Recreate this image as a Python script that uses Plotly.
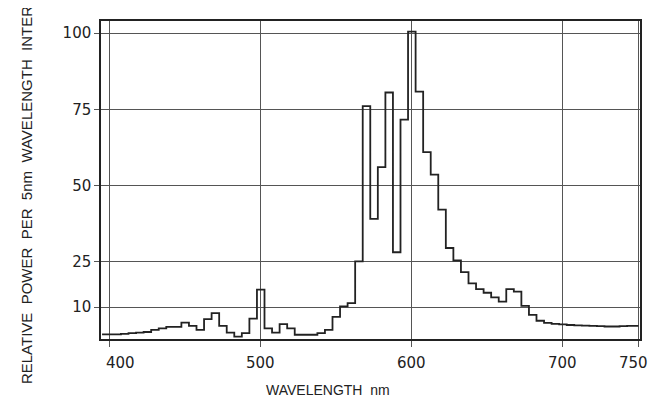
import plotly.graph_objects as go

# Wavelength bin centres (nm), 5 nm intervals
wavelength = list(range(395, 755, 5))
# Relative power per 5 nm interval
power = [
    1.0, 1.0, 1.0, 1.2, 1.4, 1.6, 1.8, 2.5, 3.0, 3.5,      # 395-440
    3.5, 4.9, 3.8, 2.5, 6.0, 8.0, 3.8, 1.6, 0.3, 1.4,      # 445-490
    6.2, 15.7, 3.0, 1.6, 4.4, 3.0, 0.9, 0.9, 0.9, 1.4,     # 495-540
    2.5, 6.8, 10.2, 11.3, 25.0, 76.0, 39.0, 56.0, 80.5, 28.0,  # 545-590
    71.6, 100.5, 80.8, 60.9, 53.5, 42.0, 29.4, 25.3, 21.5, 17.8,  # 595-640
    15.9, 14.7, 13.2, 11.8, 15.9, 15.1, 10.4, 7.4, 5.5, 4.8,   # 645-690
    4.5, 4.3, 4.1, 4.0, 3.9, 3.8, 3.7, 3.6, 3.6, 3.7,      # 695-740
    3.8, 3.8,                                               # 745-750
]

x_ticks = [400, 500, 600, 700, 750]
x_tick_text = ["400", "500", "600", "700", "750"]
x_label_pos = [407, 500, 600, 700, 747]
y_ticks = [10, 25, 50, 75, 100]
y_tick_text = ["10", "25", "50", "75", "100"]

ink = "#222222"
grid = "#555555"

fig = go.Figure()
fig.add_trace(go.Scatter(
    x=wavelength, y=power, mode="lines",
    line=dict(color=ink, width=1.8, shape="hvh"),
    showlegend=False, hoverinfo="skip",
))

for pos, txt in zip(x_label_pos, x_tick_text):
    fig.add_annotation(
        x=pos, y=-0.075, xref="x", yref="paper", text=txt, showarrow=False,
        xanchor="center", yanchor="middle",
        font=dict(family="DejaVu Sans", size=15, color=ink),
    )

fig.add_annotation(
    x=0.421, y=-0.16, xref="paper", yref="paper",
    text="WAVELENGTH\u00a0\u00a0nm", showarrow=False,
    xanchor="center", yanchor="middle",
    font=dict(family="Liberation Sans", size=14, color=ink),
)
fig.add_annotation(
    x=-0.137, y=0.494, xref="paper", yref="paper", textangle=-90,
    text="RELATIVE\u00a0\u00a0POWER\u00a0\u00a0PER\u00a0\u00a05nm\u00a0\u00a0WAVELENGTH\u00a0\u00a0INTERVAL",
    showarrow=False, xanchor="center", yanchor="middle",
    font=dict(family="Liberation Sans", size=15, color=ink),
)

fig.update_xaxes(
    range=[394.3, 751], tickvals=x_ticks, showticklabels=False,
    showgrid=True, gridcolor=grid, gridwidth=1,
    ticks="outside", ticklen=6, tickcolor=grid, tickwidth=1,
    showline=True, linecolor=ink, linewidth=1.5, mirror=True,
    zeroline=False, fixedrange=True,
)
fig.update_yaxes(
    range=[-0.5, 104], tickvals=y_ticks, ticktext=y_tick_text,
    showgrid=True, gridcolor=grid, gridwidth=1,
    ticks="outside", ticklen=5, tickcolor=grid, tickwidth=1,
    showline=True, linecolor=ink, linewidth=1.5, mirror=True,
    zeroline=False, fixedrange=True,
    tickfont=dict(family="DejaVu Sans", size=15, color=ink),
)

fig.update_layout(
    width=657, height=399,
    margin=dict(l=93, r=25, t=13, b=68),
    paper_bgcolor="white", plot_bgcolor="white",
)

fig.write_html("out.html")
